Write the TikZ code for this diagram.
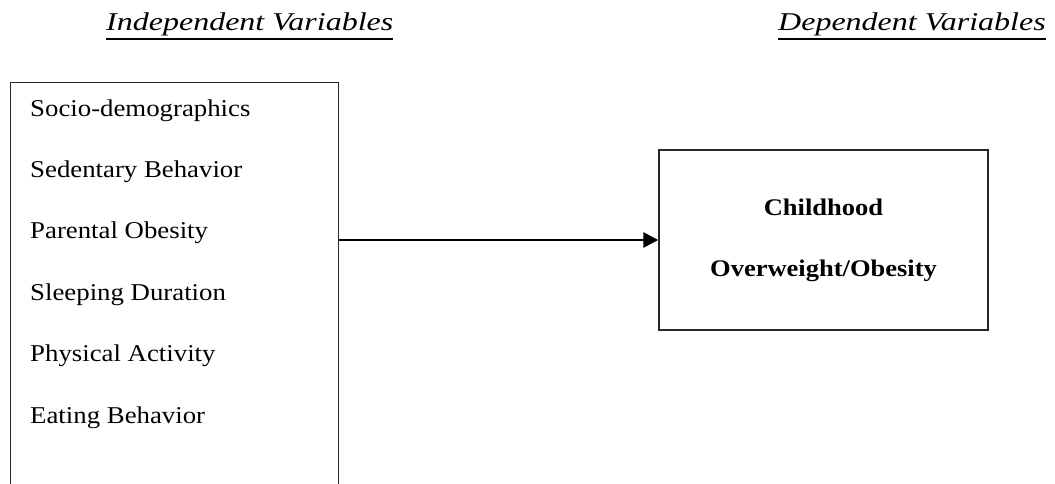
\documentclass[tikz,border=0pt]{standalone}
\usepackage{fontspec}
\usepackage{graphicx}
\setmainfont{Liberation Serif}
\usetikzlibrary{arrows.meta}
\newcommand{\vsq}[2]{\scalebox{1}[#1]{#2}}
\begin{document}
\begin{tikzpicture}[x=1pt,y=-1pt,
  body/.style={anchor=base west, inner sep=0pt, font=\fontsize{26.8}{30}\selectfont},
  head/.style={anchor=base west, inner sep=0pt, font=\fontsize{32}{36}\selectfont\itshape},
  boldtxt/.style={anchor=base, inner sep=0pt, font=\fontsize{26.5}{30}\selectfont\bfseries},
  frame/.style={draw=black!85, line width=1.4pt, inner sep=0pt},
  link/.style={line width=2.6pt, -{Triangle[length=15pt,width=15pt]}},
  uline/.style={line width=1.9pt}]
\useasboundingbox (0,0) rectangle (1055,484);
\begin{scope}
\clip (0,0) rectangle (1055,484);
\node[frame, minimum width=328pt, minimum height=420pt, anchor=north west] (iv) at (10,82) {};
\end{scope}
\node[frame, minimum width=329pt, minimum height=180pt] (dv) at (823.5,240) {};

\node[head] (ivh) at (106,31) {\vsq{0.8}{Independent Variables}};
\node[head] (dvh) at (778,31) {\vsq{0.8}{Dependent Variables}};
\draw[uline] ([yshift=-8pt]ivh.base west) -- ([yshift=-8pt]ivh.base east);
\draw[uline] ([yshift=-8pt]dvh.base west) -- ([yshift=-8pt]dvh.base east);

\node[body] (v1) at (30,117) {\vsq{0.9}{Socio-demographics}};
\node[body] (v2) at (30,177.5) {\vsq{0.9}{Sedentary Behavior}};
\node[body] (v3) at (30,238.5) {\vsq{0.9}{Parental Obesity}};
\node[body] (v4) at (30,300) {\vsq{0.9}{Sleeping Duration}};
\node[body] (v5) at (30,361.5) {\vsq{0.9}{Physical Activity}};
\node[body] (v6) at (30,423.5) {\vsq{0.9}{Eating Behavior}};

\node[boldtxt] (d1) at (823.5,215.7) {\vsq{0.9}{Childhood}};
\node[boldtxt] (d2) at (823.5,276.7) {\vsq{0.9}{Overweight/Obesity}};

\draw[link] (iv.east |- dv.west) -- (dv.west);
\end{tikzpicture}
\end{document}
